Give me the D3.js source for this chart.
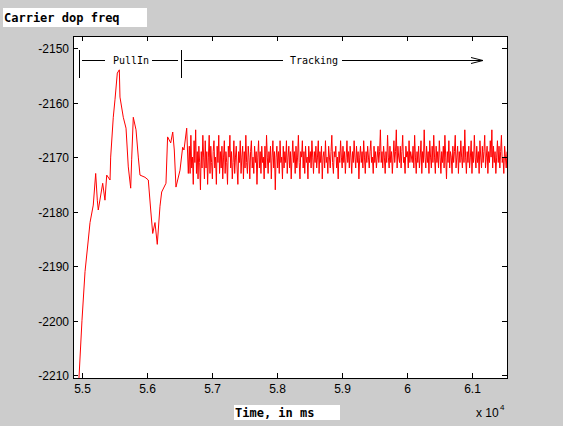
<!DOCTYPE html>
<html><head><meta charset="utf-8">
<script src="https://cdn.jsdelivr.net/npm/d3@7"></script>
<style>body{margin:0;background:#cccccc;}svg{display:block}</style>
</head><body><svg id="c" width="563" height="426"></svg>
<script>
const xTicks=[55000,56000,57000,58000,59000,60000,61000];
const xTickLabels=["5.5","5.6","5.7","5.8","5.9","6","6.1"];
const yTicks=[-2150,-2160,-2170,-2180,-2190,-2200,-2210];
const pullX=[54952,54998,55045,55095,55122,55172,55209,55234,55249,55317,55352,55379,55430,55440,55480,55506,55542,55573,55583,55634,55676,55711,55748,55763,55788,55830,55865,55891,55968,56019,56056,56087,56122,56157,56199,56225,56291,56316,56364,56395,56419,56445,56507,56548,56568,56610,56635];
const pullY=[-2210.5,-2200,-2191,-2185.2,-2182,-2178.8,-2173,-2177.9,-2179.7,-2174.8,-2177.9,-2173.3,-2174.2,-2170,-2162.7,-2159.5,-2154.6,-2154,-2159,-2162.7,-2164.7,-2171.8,-2175.7,-2170.5,-2162.7,-2165,-2170,-2173.3,-2173.7,-2174.2,-2179.7,-2184,-2182,-2186,-2179,-2176.4,-2174.8,-2166.3,-2167.4,-2165.4,-2168.7,-2175.5,-2172.4,-2168.2,-2168.7,-2164.7,-2173];
const trackStart=56650, trackEnd=61540;
const trackY=[-2168,-2173,-2166,-2172,-2170,-2175,-2167,-2171,-2165,-2173,-2169,-2174,-2168,-2171,-2176,-2169,-2172,-2166,-2170,-2174,-2167,-2172,-2169,-2175,-2170,-2166,-2173,-2168,-2171,-2174,-2169,-2167,-2172,-2170,-2175,-2168,-2171,-2166,-2173,-2169,
-2172,-2168,-2174,-2170,-2167,-2173,-2169,-2171,-2175,-2168,-2170,-2166,-2172,-2169,-2174,-2171,-2167,-2173,-2170,-2168,-2172,-2175,-2169,-2171,-2167,-2173,-2170,-2168,-2174,-2169,-2172,-2166,-2171,-2173,-2168,-2170,-2174,-2169,-2167,-2172,
-2170,-2173,-2168,-2171,-2169,-2175,-2170,-2167,-2172,-2169,-2173,-2168,-2171,-2170,-2174,-2168,-2172,-2166,-2170,-2173,-2169,-2171,-2168,-2174,-2170,-2167,-2172,-2169,-2176,-2170,-2168,-2172,-2169,-2173,-2167,-2171,-2170,-2174,-2168,-2172,
-2169,-2171,-2167,-2173,-2170,-2168,-2172,-2169,-2174,-2170,-2167,-2171,-2169,-2173,-2168,-2172,-2170,-2166,-2171,-2174,-2169,-2170,-2167,-2172,-2169,-2173,-2168,-2171,-2170,-2174,-2168,-2171,-2169,-2172,-2167,-2170,-2173,-2169,-2171,-2168,
-2172,-2170,-2167,-2173,-2169,-2171,-2168,-2174,-2170,-2169,-2172,-2167,-2171,-2170,-2173,-2168,-2170,-2172,-2169,-2166,-2171,-2173,-2169,-2170,-2168,-2172,-2170,-2174,-2169,-2171,-2167,-2170,-2172,-2168,-2171,-2169,-2173,-2170,-2167,-2171,
-2169,-2172,-2168,-2170,-2173,-2169,-2171,-2167,-2170,-2172,-2168,-2171,-2169,-2174,-2170,-2168,-2171,-2169,-2172,-2167,-2170,-2173,-2169,-2171,-2168,-2170,-2172,-2169,-2167,-2171,-2170,-2173,-2168,-2171,-2169,-2172,-2170,-2168,-2171,-2169,
-2165,-2171,-2169,-2172,-2168,-2170,-2173,-2169,-2171,-2166,-2170,-2172,-2168,-2171,-2169,-2173,-2170,-2167,-2171,-2169,-2165,-2172,-2168,-2170,-2171,-2168,-2172,-2169,-2166,-2171,-2170,-2173,-2168,-2170,-2169,-2172,-2167,-2171,-2169,-2170,
-2171,-2168,-2172,-2166,-2170,-2173,-2169,-2171,-2168,-2172,-2170,-2167,-2173,-2169,-2171,-2165,-2170,-2172,-2168,-2171,-2169,-2173,-2167,-2170,-2172,-2168,-2171,-2166,-2170,-2173,
-2168,-2171,-2169,-2172,-2167,-2170,-2173,-2169,-2171,-2168,-2172,-2166,-2170,-2174,-2169,-2171,-2167,-2172,-2169,-2170,-2173,-2168,-2171,-2169,-2166,-2172,-2170,-2168,-2173,-2169,
-2171,-2167,-2170,-2172,-2168,-2171,-2165,-2170,-2173,-2169,-2171,-2168,-2172,-2170,-2167,-2173,-2169,-2171,-2166,-2170,-2172,-2168,-2171,-2169,-2173,-2167,-2170,-2172,-2168,-2171,
-2169,-2166,-2172,-2170,-2168,-2173,-2169,-2171,-2167,-2170,-2165,-2172,-2168,-2171,-2169,-2173,-2170,-2167,-2171,-2168,-2172,-2169,-2166,-2171,-2170,-2173,-2168,-2170,-2172,-2169];
const W=563,H=426,L=73,R=507,T=36,B=378;
const x=d3.scaleLinear().domain([54860,61540]).range([L,R]);
const y=d3.scaleLinear().domain([-2210.5,-2147.8]).range([B,T]);
const svg=d3.select("#c");
svg.append("rect").attr("x",L).attr("y",T).attr("width",R-L).attr("height",B-T).attr("fill","#fff");
const trackStep=(trackEnd-trackStart)/(trackY.length-1);
const pts=pullX.map((v,i)=>[v,pullY[i]]).concat(trackY.map((v,i)=>[trackStart+i*trackStep,v]));
svg.append("defs").append("clipPath").attr("id","cl").append("rect").attr("x",L).attr("y",T).attr("width",R-L).attr("height",B-T);
svg.append("path").attr("clip-path","url(#cl)").attr("d",d3.line().x(d=>x(d[0])).y(d=>y(d[1]))(pts)).attr("fill","none").attr("stroke","#f00").attr("stroke-width",1);
const ax=svg.append("g").attr("font-family","Arial, Liberation Sans, sans-serif").attr("font-size",12);
ax.append("rect").attr("x",L+0.5).attr("y",T+0.5).attr("width",R-L).attr("height",B-T).attr("fill","none").attr("stroke","#000");
xTicks.forEach((t,i)=>{const px=Math.round(x(t))+0.5;
 ax.append("line").attr("x1",px).attr("x2",px).attr("y1",B).attr("y2",B-5).attr("stroke","#000");
 ax.append("line").attr("x1",px).attr("x2",px).attr("y1",T).attr("y2",T+5).attr("stroke","#000");
 ax.append("text").attr("x",px).attr("y",B+15).attr("text-anchor","middle").text(xTickLabels[i]);});
yTicks.forEach(t=>{const py=Math.round(y(t))+0.5;
 ax.append("line").attr("x1",L).attr("x2",L+5).attr("y1",py).attr("y2",py).attr("stroke","#000");
 ax.append("line").attr("x1",R).attr("x2",R-5).attr("y1",py).attr("y2",py).attr("stroke","#000");
 ax.append("text").attr("x",L-4).attr("y",py+4).attr("text-anchor","end").text(t);});
ax.append("text").attr("x",476).attr("y",417).attr("font-size",12).text("x 10");
ax.append("text").attr("x",500).attr("y",410).attr("font-size",8).text("4");
const mono="DejaVu Sans Mono, monospace";
svg.append("rect").attr("x",3).attr("y",8).attr("width",144).attr("height",19).attr("fill","#fff");
svg.append("text").attr("x",4).attr("y",22).attr("font-family",mono).attr("font-weight","bold").attr("font-size",12).text("Carrier dop freq");
svg.append("rect").attr("x",234).attr("y",405).attr("width",106).attr("height",15).attr("fill","#fff");
svg.append("text").attr("x",235).attr("y",417).attr("font-family",mono).attr("font-weight","bold").attr("font-size",12).text("Time, in ms");
const an=svg.append("g").attr("stroke","#000").attr("fill","none");
const yl=60.5;
[79.5,181.5].forEach(px=>{an.append("line").attr("x1",px).attr("x2",px).attr("y1",50).attr("y2",78);});
[[82,105],[152,178],[184,283],[342,483]].forEach(s=>an.append("line").attr("x1",s[0]).attr("x2",s[1]).attr("y1",yl).attr("y2",yl));
an.append("path").attr("d",`M${471},${yl-3}L${483},${yl}L${471},${yl+3}`);
svg.append("text").attr("x",131).attr("y",yl+3).attr("text-anchor","middle").attr("font-family",mono).attr("font-size",10).text("PullIn");
svg.append("text").attr("x",314).attr("y",yl+3).attr("text-anchor","middle").attr("font-family",mono).attr("font-size",10).text("Tracking");
</script></body></html>
